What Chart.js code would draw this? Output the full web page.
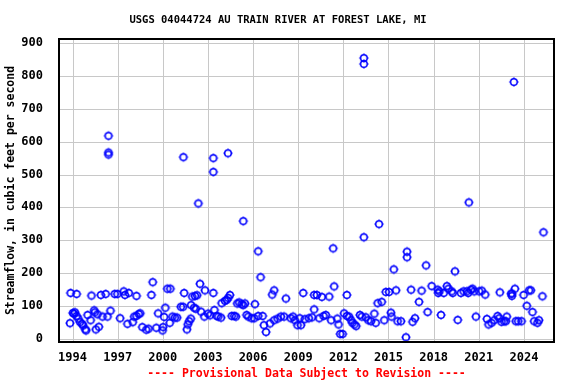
<!DOCTYPE html>
<html lang="en">
<head>
  <meta charset="UTF-8">
  <title>USGS 04044724 Au Train River</title>
  <script src="https://cdn.jsdelivr.net/npm/chart.js"></script>
  <style>
    html, body { margin: 0; padding: 0; background: #fff; }
    #wrap { width: 576px; height: 384px; }
  </style>
</head>
<body>
  <div id="wrap"><canvas id="flowChart" width="576" height="384"></canvas></div>

  <script>
    // sample dates (decimal years) and measured streamflow (cfs)
    const sampleYears = [
      1993.83, 1993.87, 1994.02, 1994.1, 1994.16, 1994.27, 1994.27, 1994.38, 1994.5, 1994.64,
      1994.7, 1994.85, 1994.9, 1995.0, 1995.2, 1995.26, 1995.44, 1995.48, 1995.55, 1995.66,
      1995.75, 1995.88, 1995.99, 1996.2, 1996.32, 1996.39, 1996.39, 1996.39, 1996.52, 1996.8,
      1996.98, 1997.16, 1997.4, 1997.48, 1997.65, 1997.74, 1998.0, 1998.1, 1998.25, 1998.25,
      1998.4, 1998.5, 1998.64, 1998.9, 1999.05, 1999.24, 1999.33, 1999.57, 1999.69, 1999.98,
      2000.02, 2000.09, 2000.17, 2000.3, 2000.46, 2000.5, 2000.64, 2000.8, 2000.95, 2001.2,
      2001.35, 2001.37, 2001.42, 2001.6, 2001.66, 2001.75, 2001.86, 2001.88, 2001.96, 2002.08,
      2002.14, 2002.19, 2002.28, 2002.36, 2002.47, 2002.54, 2002.76, 2002.8, 2003.0, 2003.14,
      2003.36, 2003.36, 2003.36, 2003.43, 2003.58, 2003.69, 2003.87, 2003.91, 2004.13, 2004.25,
      2004.33, 2004.35, 2004.46, 2004.58, 2004.75, 2004.86, 2004.95, 2005.08, 2005.24, 2005.35,
      2005.35, 2005.46, 2005.57, 2005.68, 2005.9, 2006.08, 2006.12, 2006.34, 2006.34, 2006.5,
      2006.63, 2006.72, 2006.86, 2007.12, 2007.27, 2007.4, 2007.4, 2007.63, 2007.85, 2008.06,
      2008.18, 2008.5, 2008.66, 2008.77, 2008.95, 2009.1, 2009.18, 2009.33, 2009.43, 2009.7,
      2009.92, 2010.06, 2010.06, 2010.24, 2010.4, 2010.57, 2010.68, 2010.83, 2011.06, 2011.19,
      2011.32, 2011.39, 2011.6, 2011.68, 2011.79, 2011.95, 2012.05, 2012.23, 2012.23, 2012.38,
      2012.52, 2012.6, 2012.74, 2012.85, 2013.1, 2013.22, 2013.36, 2013.36, 2013.36, 2013.49,
      2013.66, 2013.84, 2014.06, 2014.15, 2014.28, 2014.37, 2014.55, 2014.72, 2014.82, 2015.04,
      2015.16, 2015.2, 2015.35, 2015.5, 2015.6, 2015.83, 2016.16, 2016.23, 2016.23, 2016.5,
      2016.6, 2016.76, 2017.03, 2017.2, 2017.5, 2017.6, 2017.87, 2018.27, 2018.31, 2018.49,
      2018.38, 2018.67, 2018.88, 2018.98, 2019.2, 2019.27, 2019.42, 2019.6, 2019.81, 2019.99,
      2020.21, 2020.3, 2020.34, 2020.48, 2020.59, 2020.7, 2020.81, 2021.03, 2021.2, 2021.43,
      2021.54, 2021.65, 2021.85, 2022.03, 2022.25, 2022.36, 2022.4, 2022.51, 2022.69, 2022.8,
      2022.86, 2023.15, 2023.2, 2023.22, 2023.33, 2023.4, 2023.46, 2023.62, 2023.84, 2023.98,
      2024.19, 2024.35, 2024.46, 2024.57, 2024.68, 2024.9, 2025.0, 2025.23, 2025.3
    ];
    const streamflow = [
      47, 139, 78, 76, 80, 136, 69, 61, 50, 45,
      40, 28, 25, 72, 56, 131, 86, 80, 28, 74,
      36, 133, 67, 136, 67, 618, 567, 561, 85, 136,
      136, 62, 144, 133, 45, 139, 50, 67, 130, 69,
      75, 77, 35, 27, 30, 133, 172, 33, 77, 25,
      35, 66, 94, 152, 48, 152, 67, 64, 64, 97,
      97, 553, 139, 28, 43, 53, 61, 102, 128, 94,
      130, 91, 132, 412, 167, 82, 67, 147, 76, 71,
      139, 550, 508, 87, 69, 67, 64, 108, 115, 118,
      565, 124, 133, 69, 69, 67, 107, 110, 105, 102,
      358, 107, 72, 67, 62, 62, 105, 266, 69, 187,
      69, 41, 20, 46, 134, 147, 56, 61, 67, 67,
      122, 62, 67, 56, 41, 62, 41, 139, 59, 62,
      65, 133, 89, 133, 62, 127, 69, 72, 128, 56,
      275, 159, 61, 43, 14, 14, 77, 133, 69, 67,
      56, 48, 43, 38, 72, 67, 855, 837, 309, 65,
      56, 53, 76, 48, 108, 349, 112, 56, 142, 142,
      79, 67, 211, 147, 53, 53, 4, 265, 248, 149,
      51, 62, 112, 146, 223, 81, 160, 149, 139, 72,
      144, 139, 160, 152, 144, 139, 205, 57, 139, 144,
      144, 139, 415, 149, 152, 144, 67, 144, 146, 134,
      60, 43, 48, 56, 69, 62, 141, 51, 53, 53,
      67, 137, 130, 137, 782, 152, 53, 53, 53, 133,
      100, 147, 147, 81, 53, 48, 56, 129, 324
    ];
    const yearTicks = [1994, 1997, 2000, 2003, 2006, 2009, 2012, 2015, 2018, 2021, 2024];
    const flowTicks = [0, 100, 200, 300, 400, 500, 600, 700, 800, 900];

    const chartTitle = 'USGS 04044724 AU TRAIN RIVER AT FOREST LAKE, MI';
    const footNote = '---- Provisional Data Subject to Revision ----';
    const yTitle = 'Streamflow, in cubic feet per second';

    const monoFont = '"DejaVu Sans Mono", "Liberation Mono", monospace';

    // open blue circle with small tick marks, like the USGS marker
    function makeMarker() {
      const c = document.createElement('canvas');
      c.width = 12; c.height = 12;
      const g = c.getContext('2d');
      g.strokeStyle = '#0000ff';
      g.lineWidth = 1.5;
      g.beginPath();
      g.arc(6, 6, 3.3, 0, Math.PI * 2);
      g.stroke();
      g.lineWidth = 1;
      g.beginPath();
      g.moveTo(6, 1.2); g.lineTo(6, 2.6);
      g.moveTo(6, 9.4); g.lineTo(6, 10.8);
      g.moveTo(1.2, 6); g.lineTo(2.6, 6);
      g.moveTo(9.4, 6); g.lineTo(10.8, 6);
      g.stroke();
      return c;
    }

    // grey grid drawn under the points, black frame and texts on top
    const usgsFrame = {
      id: 'usgsFrame',
      beforeDatasetsDraw(chart) {
        const ctx = chart.ctx;
        const a = chart.chartArea;
        const xs = chart.scales.x, ys = chart.scales.y;
        ctx.save();
        ctx.strokeStyle = '#c8c8c8';
        ctx.lineWidth = 1;
        ctx.beginPath();
        yearTicks.forEach(v => {
          const px = Math.round(xs.getPixelForValue(v)) + 0.5;
          ctx.moveTo(px, a.top); ctx.lineTo(px, a.bottom);
        });
        flowTicks.forEach(v => {
          const py = Math.round(ys.getPixelForValue(v)) + 0.5;
          ctx.moveTo(a.left, py); ctx.lineTo(a.right, py);
        });
        ctx.stroke();
        ctx.restore();
      },
      afterDraw(chart) {
        const ctx = chart.ctx;
        const a = chart.chartArea;
        ctx.save();
        ctx.strokeStyle = '#000';
        ctx.lineWidth = 2;
        ctx.strokeRect(a.left, a.top, a.right - a.left, a.bottom - a.top);
        ctx.textAlign = 'center';
        ctx.textBaseline = 'middle';
        ctx.fillStyle = '#000';
        ctx.font = 'bold 10.5px ' + monoFont;
        ctx.fillText(chartTitle, 278, 20);
        ctx.fillStyle = '#ff0000';
        ctx.font = 'bold 11.5px ' + monoFont;
        ctx.fillText(footNote, (a.left + a.right) / 2, 374);
        ctx.restore();
      }
    };

    const points = sampleYears.map((yr, i) => ({ x: yr, y: streamflow[i] }));

    new Chart(document.getElementById('flowChart').getContext('2d'), {
      type: 'scatter',
      data: {
        datasets: [{
          data: points,
          pointStyle: makeMarker(),
          pointRadius: 4,
          borderColor: '#0000ff',
          backgroundColor: 'transparent'
        }]
      },
      options: {
        responsive: false,
        animation: false,
        events: [],
        layout: { padding: { top: 39, right: 22, left: 0, bottom: 0 } },
        plugins: {
          legend: { display: false },
          tooltip: { enabled: false }
        },
        scales: {
          x: {
            type: 'linear',
            min: 1993.1,
            max: 2026.0,
            afterBuildTicks: s => { s.ticks = yearTicks.map(v => ({ value: v })); },
            afterFit: s => { s.height = 42; },
            grid: { display: false },
            border: { display: false },
            ticks: {
              color: '#000',
              padding: 1,
              maxRotation: 0,
              font: { family: monoFont, size: 12, weight: 'bold' },
              callback: v => String(v)
            }
          },
          y: {
            min: -10.4,
            max: 913,
            afterBuildTicks: s => { s.ticks = flowTicks.map(v => ({ value: v })); },
            afterFit: s => { s.width = 59; },
            grid: { display: false },
            border: { display: false },
            title: {
              display: true,
              text: yTitle,
              color: '#000',
              padding: { top: 4, bottom: 0 },
              font: { family: monoFont, size: 11.5, weight: 'bold' }
            },
            ticks: {
              color: '#000',
              padding: 8,
              font: { family: monoFont, size: 12, weight: 'bold' },
              callback: v => String(v)
            }
          }
        }
      },
      plugins: [usgsFrame]
    });
  </script>
</body>
</html>
